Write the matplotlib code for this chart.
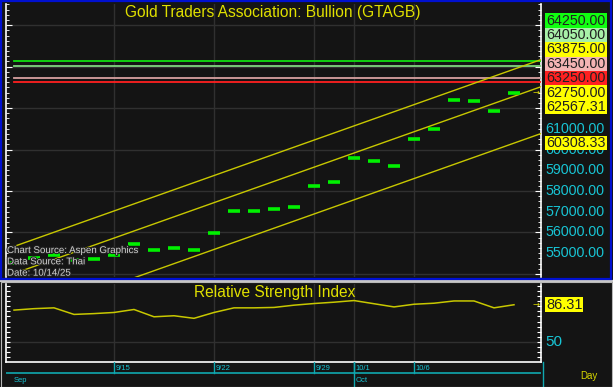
import matplotlib
matplotlib.use("Agg")
import matplotlib.pyplot as plt
from matplotlib.patches import Rectangle
from matplotlib.lines import Line2D
import matplotlib.patheffects as pe
from matplotlib.ticker import MultipleLocator, FixedLocator

plt.rcParams['font.family'] = ['Liberation Sans', 'DejaVu Sans']

# ---------------- data ----------------
dates = ["9/8", "9/9", "9/10", "9/11", "9/12",
         "9/15", "9/16", "9/17", "9/18", "9/19",
         "9/22", "9/23", "9/24", "9/25", "9/26",
         "9/29", "9/30", "10/1", "10/2", "10/3",
         "10/6", "10/7", "10/8", "10/9", "10/10", "10/13"]
close = [54540, 54770, 54930, 54690, 54730,
         54930, 55420, 55170, 55240, 55140,
         55970, 57030, 57030, 57130, 57230,
         58220, 58430, 59570, 59430, 59220,
         60520, 60970, 62370, 62320, 61870, 62750]
rsi = [81.1, 82.5, 83.3, 76.9, 77.7,
       78.8, 81.7, 74.6, 75.6, 73.1,
       78.8, 83.3, 83.3, 83.7, 85.9,
       87.5, 88.8, 90.4, 87.3, 84.2,
       86.8, 87.8, 90.0, 90.0, 83.3, 86.31]
date_tick_labels = ["9/15", "9/22", "9/29", "10/1", "10/6"]
month_labels = ["Sep", "Oct"]
month_first_day = ["9/8", "10/1"]

# regression channel values at the first and last bar
channel_first = [55325.00, 54017.31, 51758.33]
channel_last = [63875.00, 62567.31, 60308.33]

# horizontal levels
levels = [64250.00, 64050.00, 63450.00, 63250.00]
level_colors = ["#10e010", "#80d880", "#d8a0a0", "#ff2020"]

# right-hand value boxes
box_values = [64250.00, 64050.00, 63875.00, 63450.00, 63250.00,
              62750.00, 62567.31, 60308.33]
box_colors = ["#10ff10", "#a8f0a8", "#ffff00", "#f4b4b4", "#ff2020",
              "#ffff00", "#ffff00", "#ffff00"]
axis_labels = [61000, 60000, 59000, 58000, 57000, 56000, 55000]

title = "Gold Traders Association: Bullion (GTAGB)"
rsi_title = "Relative Strength Index"
source_lines = ["Chart Source: Aspen Graphics", "Data Source: Thai", "Date: 10/14/25"]

# ---------------- layout ----------------
W, H = 613, 387
BG = "#141414"
GRID = "#303030"
YEL = "#d8d800"
CYAN = "#18c4d4"
TEAL = "#10a8b0"

fig = plt.figure(figsize=(W / 100, H / 100), dpi=100, facecolor=BG)

def fx(px):
    return px / W

def fy(py):
    return 1 - py / H

n = len(dates)
xs = list(range(n))
XL = (-0.4, 26.35)
grid_idx = [dates.index(d) for d in date_tick_labels]

# ---- main price panel ----
ax = fig.add_axes([fx(6), fy(277), (541 - 6) / W, (277 - 4) / H])
ax.set_facecolor(BG)
ax.set_xlim(*XL)
ax.set_ylim(53850, 67020)
ax.yaxis.set_major_locator(MultipleLocator(2000))
ax.yaxis.set_minor_locator(MultipleLocator(250))
ax.set_xticks(grid_idx)
ax.grid(True, which='major', color=GRID, lw=1.0)
ax.tick_params(axis='x', length=0, labelbottom=False)
ax.tick_params(axis='y', which='both', direction='in', left=True, right=True,
               labelleft=False, labelright=False, color='white')
ax.tick_params(axis='y', which='major', length=4, width=0.8)
ax.tick_params(axis='y', which='minor', length=2, width=0.6)
for s in ['top', 'bottom']:
    ax.spines[s].set_visible(False)
for s in ['left', 'right']:
    ax.spines[s].set_color('white')
    ax.spines[s].set_linewidth(1.2)

for lv, c in zip(levels, level_colors):
    ax.plot([0, XL[1]], [lv, lv], color=c, lw=1.3, zorder=3)

for a, b in zip(channel_first, channel_last):
    slope = (b - a) / (n - 1)
    ax.plot([0, XL[1]], [a, b + slope * (XL[1] - (n - 1))], color="#c8c800", lw=1.0, zorder=3)

ax.hlines(close, [x - 0.28 for x in xs], [x + 0.28 for x in xs],
          color="#00f000", lw=2.6, zorder=4)

fig.text(fx(273), fy(13), title, color="#e0e000", fontsize=11.2, ha='center', va='center')
for i, t in enumerate(source_lines):
    fig.text(fx(7), fy(250 + i * 11.3), t, color="#d0d0d0", fontsize=7.0, ha='left', va='center',
             path_effects=[pe.withStroke(linewidth=1.5, foreground='#202020')], zorder=6)

# right labels
def price_to_py(v):
    return H - ax.transData.transform((0, v))[1]

for v in axis_labels:
    fig.text(fx(545), fy(price_to_py(v)), f"{v:.2f}", color=CYAN, fontsize=10.3,
             ha='left', va='center')

anchor = close[-1]
bh = 14.4
pos = {}
above = sorted([v for v in box_values if v > anchor])
below = sorted([v for v in box_values if v < anchor], reverse=True)
pos[anchor] = price_to_py(anchor)
prev = pos[anchor]
for v in above:
    p = min(price_to_py(v), prev - bh)
    pos[v] = p
    prev = p
prev = pos[anchor]
for v in below:
    p = max(price_to_py(v), prev + bh)
    pos[v] = p
    prev = p
for v, c in zip(box_values, box_colors):
    py = pos[v]
    fig.patches.append(Rectangle((fx(545), fy(py + bh / 2)), 62 / W, bh / H,
                                 transform=fig.transFigure, facecolor=c, edgecolor='none', zorder=5))
    fig.text(fx(546), fy(py), f"{v:.2f}", color="#202020", fontsize=10.3, ha='left', va='center', zorder=6)

fig.text(fx(536), fy(price_to_py(anchor)), "→", color=YEL, fontsize=6, ha='center', va='center',
         family=['DejaVu Sans'])

# blue frame
fig.patches.append(Rectangle((fx(1), fy(278.5)), 610 / W, 277.5 / H, transform=fig.transFigure,
                             facecolor='none', edgecolor="#0010d0", lw=1.6, zorder=7))

# separator / lower frame
fig.lines.append(Line2D([0, 1], [fy(281), fy(281)], transform=fig.transFigure, color="#c8c8c8", lw=1.6))
fig.patches.append(Rectangle((fx(0.5), fy(386.5)), 611.5 / W, 105 / H, transform=fig.transFigure,
                             facecolor='none', edgecolor="#b8b8b8", lw=0.8, zorder=7))

# ---- RSI panel ----
ax2 = fig.add_axes([fx(6), fy(362), (541 - 6) / W, (362 - 284) / H])
ax2.set_facecolor(BG)
ax2.set_xlim(*XL)
ax2.set_ylim(30.6, 106.5)
ax2.set_xticks(grid_idx)
ax2.yaxis.set_major_locator(FixedLocator([50]))
ax2.yaxis.set_minor_locator(MultipleLocator(5))
ax2.grid(True, which='major', color=GRID, lw=1.0)
ax2.tick_params(axis='x', length=0, labelbottom=False)
ax2.tick_params(axis='y', which='both', direction='in', left=True, right=True,
                labelleft=False, labelright=False, color='white', length=3, width=0.8)
ax2.spines['top'].set_visible(False)
for s in ['left', 'right', 'bottom']:
    ax2.spines[s].set_color('white')
    ax2.spines[s].set_linewidth(1.2)
ax2.plot(xs, rsi, color="#c8c800", lw=1.1)
fig.text(fx(275), fy(293), rsi_title, color="#e0e000", fontsize=11.2, ha='center', va='center')

rsi_py = H - ax2.transData.transform((0, rsi[-1]))[1]
fig.patches.append(Rectangle((fx(545), fy(rsi_py + 7.5)), 38 / W, 15 / H, transform=fig.transFigure,
                             facecolor="#ffff00", edgecolor='none', zorder=5))
fig.text(fx(546), fy(rsi_py), f"{rsi[-1]:.2f}", color="#202020", fontsize=10.5, ha='left', va='center', zorder=6)
fig.text(fx(536), fy(rsi_py), "→", color=YEL, fontsize=6, ha='center', va='center', family=['DejaVu Sans'])
py50 = H - ax2.transData.transform((0, 50))[1]
fig.text(fx(545), fy(py50), "50", color=CYAN, fontsize=11, ha='left', va='center')

# ---- date axis ----
ax3 = fig.add_axes([fx(6), fy(387), (541 - 6) / W, (387 - 362) / H])
ax3.set_facecolor(BG)
ax3.set_xlim(*XL)
ax3.set_ylim(387, 362)
ax3.axis('off')
ax3.plot(XL, [373, 373], color=TEAL, lw=1.2)
for d in date_tick_labels:
    k = dates.index(d)
    ax3.plot([k, k], [362, 373], color=TEAL, lw=1.0)
    ax3.text(k + 0.08, 368, d, color=CYAN, fontsize=5.5, ha='left', va='center')
for m, d in zip(month_labels, month_first_day):
    k = dates.index(d)
    if k > 0:
        ax3.plot([k, k], [362, 387], color=TEAL, lw=1.0)
    ax3.text(k + 0.08 if k > 0 else 0.0, 380, m, color=CYAN, fontsize=5.5, ha='left', va='center')
fig.lines.append(Line2D([fx(543), fx(543)], [fy(362), fy(387)], transform=fig.transFigure, color=TEAL, lw=1.0))
fig.text(fx(589), fy(376), "Day", color="#d8d800", fontsize=7, ha='center', va='center')

fig.savefig("out.png", dpi=100, facecolor=BG)
